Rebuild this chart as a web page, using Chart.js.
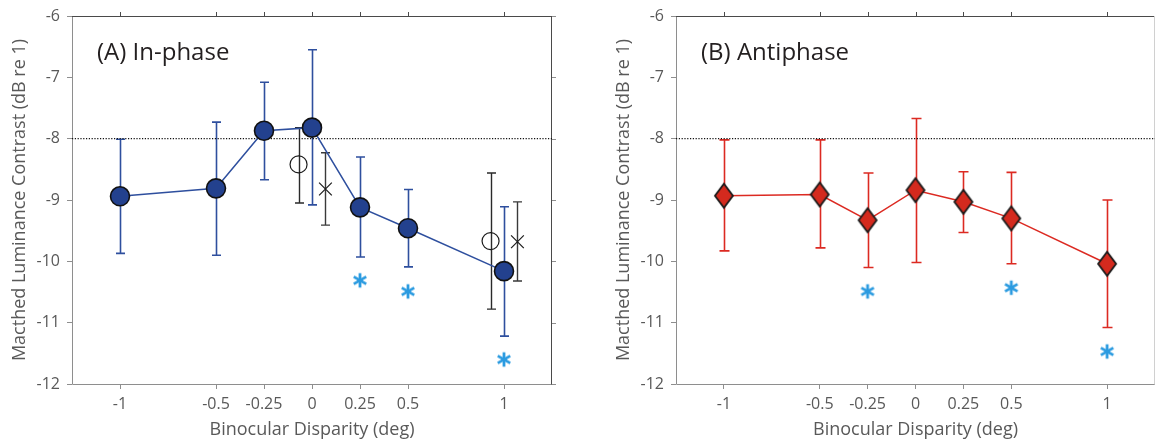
<!DOCTYPE html>
<html>
<head>
<meta charset="utf-8">
<script src="https://cdn.jsdelivr.net/npm/chart.js@4.4.1/dist/chart.umd.min.js"></script>
<style>
  html, body { margin: 0; padding: 0; background: #ffffff; }
  #wrap { position: relative; width: 1155px; height: 443px; overflow: hidden; }
  .panel { position: absolute; top: 0; }
</style>
</head>
<body>
<div id="wrap">
  <div class="panel" style="left:0px;width:580px;height:443px;"><canvas id="cA" width="580" height="443"></canvas></div>
  <div class="panel" style="left:580px;width:600px;height:443px;"><canvas id="cB" width="600" height="443"></canvas></div>
</div>
<script>
// ---------- data ----------
const xTickValues = [-1, -0.5, -0.25, 0, 0.25, 0.5, 1];
const yTickValues = [-6, -7, -8, -9, -10, -11, -12];
const referenceLevel = -8;

const disparity = [-1, -0.5, -0.25, 0, 0.25, 0.5, 1];

// (A) In-phase
const inPhaseMean  = [-8.94, -8.81, -7.87, -7.82, -9.12, -9.46, -10.16];
const inPhaseUpper = [-8.01, -7.73, -7.08, -6.55, -8.30, -8.83, -9.11];
const inPhaseLower = [-9.87, -9.90, -8.67, -9.08, -9.93, -10.09, -11.22];

const ctrlCircleX     = [-0.07, 0.93];
const ctrlCircleMean  = [-8.42, -9.67];
const ctrlCircleUpper = [-7.82, -8.56];
const ctrlCircleLower = [-9.05, -10.78];

const ctrlCrossX     = [0.07, 1.07];
const ctrlCrossMean  = [-8.82, -9.68];
const ctrlCrossUpper = [-8.23, -9.03];
const ctrlCrossLower = [-9.41, -10.32];

const inPhaseStarX = [0.25, 0.5, 1];
const inPhaseStarY = [-10.31, -10.49, -11.60];

// (B) Antiphase
const antiMean  = [-8.93, -8.91, -9.33, -8.84, -9.03, -9.30, -10.04];
const antiUpper = [-8.02, -8.02, -8.56, -7.67, -8.54, -8.55, -9.00];
const antiLower = [-9.83, -9.78, -10.10, -10.02, -9.53, -10.04, -11.08];

const antiStarX = [-0.25, 0.5, 1];
const antiStarY = [-10.49, -10.43, -11.47];

// ---------- styling helpers ----------
const FONT = '"Open Sans", "Noto Sans", sans-serif';
Chart.defaults.font.family = FONT;

function makeDiamond() {
  const c = document.createElement('canvas');
  c.width = 22; c.height = 28;
  const g = c.getContext('2d');
  g.beginPath();
  g.moveTo(11, 2); g.lineTo(20, 14); g.lineTo(11, 26); g.lineTo(2, 14); g.closePath();
  g.fillStyle = '#d42a1e'; g.fill();
  g.lineWidth = 1.8; g.strokeStyle = '#1a1a1a'; g.lineJoin = 'miter'; g.stroke();
  return c;
}
function makeStar() {
  const c = document.createElement('canvas');
  c.width = 18; c.height = 18;
  const g = c.getContext('2d');
  g.strokeStyle = '#2b9be0'; g.lineWidth = 2.8; g.lineCap = 'butt';
  const cx = 9, cy = 9, r = 7.2;
  for (const a of [90, 30, 150]) {
    const t = a * Math.PI / 180;
    g.beginPath();
    g.moveTo(cx - r * Math.cos(t), cy - r * Math.sin(t));
    g.lineTo(cx + r * Math.cos(t), cy + r * Math.sin(t));
    g.stroke();
  }
  return c;
}
const diamondImg = makeDiamond();
const starImg = makeStar();

function pts(xs, ys) { return xs.map((x, i) => ({ x: x, y: ys[i] })); }

// error bar plugin: draws bars through the chart's own scales
const errorBarPlugin = {
  id: 'errorBars',
  beforeDatasetsDraw(chart) {
    const { ctx, scales: { x, y } } = chart;
    ctx.save();
    chart.data.datasets.forEach(ds => {
      if (!ds.errUpper) return;
      ctx.strokeStyle = ds.errColor;
      ctx.lineWidth = ds.errWidth || 1.5;
      ds.data.forEach((p, i) => {
        const px = Math.round(x.getPixelForValue(p.x)) + 0.5;
        const yt = y.getPixelForValue(ds.errUpper[i]);
        const yb = y.getPixelForValue(ds.errLower[i]);
        const cap = ds.errCap || 4.5;
        ctx.beginPath();
        ctx.moveTo(px, yt); ctx.lineTo(px, yb);
        ctx.moveTo(px - cap, yt); ctx.lineTo(px + cap, yt);
        ctx.moveTo(px - cap, yb); ctx.lineTo(px + cap, yb);
        ctx.stroke();
      });
    });
    ctx.restore();
  }
};

// frame plugin: box and outward ticks on top / right, panel label
const framePlugin = {
  id: 'frame',
  beforeDatasetsDraw(chart, args, opts) {
    const { ctx, chartArea: a, scales: { x, y } } = chart;
    ctx.save();
    ctx.lineWidth = 1;
    ctx.strokeStyle = '#8e8e8e';
    ctx.beginPath();
    ctx.moveTo(a.left + 0.5, a.top); ctx.lineTo(a.left + 0.5, a.bottom + 0.5);
    ctx.lineTo(a.right, a.bottom + 0.5);
    ctx.stroke();
    ctx.strokeStyle = '#4a4a4a';
    ctx.beginPath();
    ctx.moveTo(a.left, a.top + 0.5); ctx.lineTo(a.right, a.top + 0.5);
    ctx.stroke();
    ctx.strokeStyle = opts.rightColor || '#4a4a4a';
    ctx.beginPath();
    ctx.moveTo(a.right - 0.5, a.top); ctx.lineTo(a.right - 0.5, a.bottom + 0.5);
    ctx.stroke();
    ctx.strokeStyle = '#4a4a4a';
    xTickValues.forEach(v => {
      const px = Math.round(x.getPixelForValue(v)) + 0.5;
      ctx.beginPath(); ctx.moveTo(px, a.top); ctx.lineTo(px, a.top - 4); ctx.stroke();
    });
    ctx.strokeStyle = '#8e8e8e';
    yTickValues.forEach(v => {
      const py = Math.round(y.getPixelForValue(v)) + 0.5;
      ctx.beginPath(); ctx.moveTo(a.right, py); ctx.lineTo(a.right + 4, py); ctx.stroke();
    });
    ctx.restore();
  },
  afterDraw(chart, args, opts) {
    const { ctx, chartArea: a } = chart;
    ctx.save();
    ctx.font = '24px ' + FONT;
    ctx.fillStyle = '#231f20';
    ctx.textBaseline = 'alphabetic';
    ctx.textAlign = 'left';
    ctx.fillText(opts.label, a.left + 25, a.top + 44);
    ctx.restore();
  }
};

function baseScales() {
  return {
    x: {
      type: 'linear', min: -1.25, max: 1.25,
      afterBuildTicks: s => { s.ticks = xTickValues.map(v => ({ value: v })); },
      afterFit: s => { s.height = 59; s.paddingLeft = 0; s.paddingRight = 0; },
      ticks: { autoSkip: false, maxRotation: 0, color: '#595959', font: { size: 16 }, padding: 6,
               callback: v => String(v) },
      grid: { drawOnChartArea: false, drawTicks: true, tickLength: 5, color: '#8e8e8e', tickColor: '#8e8e8e' },
      border: { display: false },
      title: { display: true, text: 'Binocular Disparity (deg)', color: '#595959',
               font: { size: 18 }, padding: { top: 0, bottom: 2 } }
    },
    y: {
      type: 'linear', min: -12, max: -6,
      afterBuildTicks: s => { s.ticks = yTickValues.map(v => ({ value: v })); },
      afterFit: s => { s.width = 72; s.paddingTop = 0; s.paddingBottom = 0; },
      ticks: { autoSkip: false, color: '#595959', font: { size: 16 }, padding: 7,
               callback: v => String(v) },
      grid: { drawOnChartArea: false, drawTicks: true, tickLength: 5, color: '#8e8e8e', tickColor: '#8e8e8e' },
      border: { display: false },
      title: { display: true, text: 'Macthed Luminance Contrast (dB re 1)', color: '#595959',
               font: { size: 18 }, padding: { top: 9, bottom: 0 } }
    }
  };
}

function refLine() {
  return {
    type: 'line', data: [{ x: -1.25, y: referenceLevel }, { x: 1.25, y: referenceLevel }],
    borderColor: '#111111', borderWidth: 1.2, borderDash: [1.2, 1.6], pointRadius: 0, order: 9
  };
}

// ---------- Panel A ----------
new Chart(document.getElementById('cA'), {
  type: 'scatter',
  data: {
    datasets: [
      refLine(),
      {
        data: pts(ctrlCircleX, ctrlCircleMean),
        errUpper: ctrlCircleUpper, errLower: ctrlCircleLower, errColor: '#2a2a2a', errWidth: 1.4, errCap: 4.5,
        pointStyle: 'circle', pointRadius: 8.5, backgroundColor: 'rgba(0,0,0,0)',
        borderColor: '#1a1a1a', borderWidth: 1.2, order: 3
      },
      {
        data: pts(ctrlCrossX, ctrlCrossMean),
        errUpper: ctrlCrossUpper, errLower: ctrlCrossLower, errColor: '#3a3a3a', errWidth: 1.4, errCap: 4.5,
        pointStyle: 'crossRot', pointRadius: 9, borderColor: '#1a1a1a', borderWidth: 1.2, order: 3
      },
      {
        type: 'line',
        data: pts(disparity, inPhaseMean),
        errUpper: inPhaseUpper, errLower: inPhaseLower, errColor: '#2e4f9e', errWidth: 1.6, errCap: 4.5,
        borderColor: '#2e4f9e', borderWidth: 1.5, tension: 0,
        pointStyle: 'circle', pointRadius: 9.5,
        pointBackgroundColor: '#23418e', pointBorderColor: '#111111', pointBorderWidth: 1.6, order: 2
      },
      {
        data: pts(inPhaseStarX, inPhaseStarY),
        pointStyle: starImg, pointRadius: 8, order: 1
      }
    ]
  },
  options: {
    responsive: false, animation: false,
    layout: { padding: { left: 0, right: 28, top: 16, bottom: 0 } },
    plugins: { legend: { display: false }, tooltip: { enabled: false },
               frame: { label: '(A) In-phase' } },
    scales: baseScales()
  },
  plugins: [errorBarPlugin, framePlugin]
});

// ---------- Panel B ----------
new Chart(document.getElementById('cB'), {
  type: 'scatter',
  data: {
    datasets: [
      refLine(),
      {
        type: 'line',
        data: pts(disparity, antiMean),
        errUpper: antiUpper, errLower: antiLower, errColor: '#dc2a22', errWidth: 1.6, errCap: 5,
        borderColor: '#dc2a22', borderWidth: 1.5, tension: 0,
        pointStyle: diamondImg, pointRadius: 10, order: 2
      },
      {
        data: pts(antiStarX, antiStarY),
        pointStyle: starImg, pointRadius: 8, order: 1
      }
    ]
  },
  options: {
    responsive: false, animation: false,
    layout: { padding: { left: 24, right: 25, top: 16, bottom: 0 } },
    plugins: { legend: { display: false }, tooltip: { enabled: false },
               frame: { label: '(B) Antiphase', rightColor: '#d0d0d0' } },
    scales: baseScales()
  },
  plugins: [errorBarPlugin, framePlugin]
});
</script>
</body>
</html>
